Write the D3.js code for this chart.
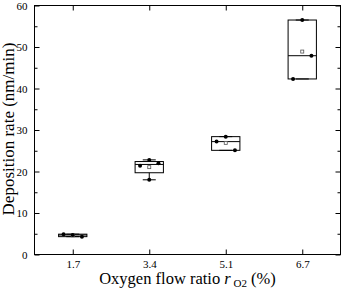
<!DOCTYPE html>
<html>
<head>
<meta charset="utf-8">
<script src="https://cdn.jsdelivr.net/npm/d3@7"></script>
<style>
  body { margin: 0; background: #fff; }
  text { font-family: "Liberation Serif", "Times New Roman", serif; fill: #000; }
</style>
</head>
<body>
<script>
// oxygen flow ratio groups and measured deposition rates (nm/min)
const categories = ["1.7", "3.4", "5.1", "6.7"];
const rate17 = [4.9, 4.7, 4.3];
const rate34 = [21.4, 22.8, 22.0, 18.0];
const rate51 = [27.2, 28.4, 25.1];
const rate67 = [42.3, 56.5, 47.9];
const yTicks = [0, 10, 20, 30, 40, 50, 60];

const groups = [rate17, rate34, rate51, rate67];

const width = 342, height = 290;
const margin = {top: 5.5, right: 1.5, bottom: 35.5, left: 34.5};
const w = width - margin.left - margin.right;
const h = height - margin.top - margin.bottom;

const svg = d3.select("body").append("svg")
  .attr("width", width)
  .attr("height", height);

const g = svg.append("g")
  .attr("transform", `translate(${margin.left},${margin.top})`);

const x = d3.scalePoint().domain(categories).range([0, w]).padding(0.5);
const y = d3.scaleLinear().domain([0, 60]).range([h, 0]);
const step = x.step();
const boxW = step * 0.37;
const capW = 13;
const jit = [-1, 0, 1, 0].map(v => v * step * 0.12);

// Tukey hinges, median excluded for odd n
function stats(vals) {
  const s = vals.slice().sort(d3.ascending);
  const n = s.length;
  const lo = s.slice(0, Math.floor(n / 2));
  const hi = s.slice(Math.ceil(n / 2));
  const q1 = d3.median(lo), q3 = d3.median(hi);
  const iqr = q3 - q1;
  const wLo = d3.min(s.filter(v => v >= q1 - 1.5 * iqr));
  const wHi = d3.max(s.filter(v => v <= q3 + 1.5 * iqr));
  return {q1, q3, med: d3.median(s), mean: d3.mean(s), wLo, wHi};
}

// frame
g.append("rect")
  .attr("width", w).attr("height", h)
  .attr("fill", "none").attr("stroke", "#000").attr("stroke-width", 1);

// axes (ticks inward)
const minor = d3.range(5, 60, 10);
g.append("g").call(d3.axisLeft(y).tickValues(yTicks).tickSizeInner(-5).tickSizeOuter(0).tickPadding(7))
  .call(a => a.select(".domain").remove())
  .call(a => a.selectAll("text").style("font-size", "11px"));
g.append("g").call(d3.axisLeft(y).tickValues(minor).tickSizeInner(-3).tickSizeOuter(0).tickFormat(""))
  .call(a => a.select(".domain").remove());
g.append("g").attr("transform", `translate(${w},0)`)
  .call(d3.axisRight(y).tickValues(yTicks).tickSizeInner(-5).tickSizeOuter(0).tickFormat(""))
  .call(a => a.select(".domain").remove());
g.append("g").attr("transform", `translate(${w},0)`)
  .call(d3.axisRight(y).tickValues(minor).tickSizeInner(-3).tickSizeOuter(0).tickFormat(""))
  .call(a => a.select(".domain").remove());
g.append("g").attr("transform", `translate(0,${h})`)
  .call(d3.axisBottom(x).tickSizeInner(-5).tickSizeOuter(0).tickPadding(6))
  .call(a => a.select(".domain").remove())
  .call(a => a.selectAll("text").style("font-size", "11px"));
g.append("g")
  .call(d3.axisTop(x).tickSizeInner(-5).tickSizeOuter(0).tickFormat(""))
  .call(a => a.select(".domain").remove());

// boxes
groups.forEach((vals, i) => {
  const s = stats(vals);
  const cx = x(categories[i]);
  const bg = g.append("g");
  bg.append("line").attr("x1", cx).attr("x2", cx).attr("y1", y(s.wLo)).attr("y2", y(s.q1)).attr("stroke", "#000");
  bg.append("line").attr("x1", cx).attr("x2", cx).attr("y1", y(s.q3)).attr("y2", y(s.wHi)).attr("stroke", "#000");
  [s.wLo, s.wHi].forEach(v => bg.append("line")
    .attr("x1", cx - capW / 2).attr("x2", cx + capW / 2)
    .attr("y1", y(v)).attr("y2", y(v)).attr("stroke", "#000"));
  bg.append("rect")
    .attr("x", cx - boxW / 2).attr("y", y(s.q3))
    .attr("width", boxW).attr("height", y(s.q1) - y(s.q3))
    .attr("fill", "none").attr("stroke", "#000").attr("stroke-width", 1);
  bg.append("line")
    .attr("x1", cx - boxW / 2).attr("x2", cx + boxW / 2)
    .attr("y1", y(s.med)).attr("y2", y(s.med)).attr("stroke", "#000");
  bg.append("rect")
    .attr("x", cx - 1.5).attr("y", y(s.mean) - 1.5)
    .attr("width", 3).attr("height", 3)
    .attr("fill", "#fff").attr("stroke", "#555").attr("stroke-width", 0.8);
  bg.selectAll("circle").data(vals).enter().append("circle")
    .attr("cx", (d, j) => cx + jit[j])
    .attr("cy", d => y(d))
    .attr("r", 2)
    .attr("fill", "#000");
});

// axis titles
svg.append("text")
  .attr("transform", `translate(14,${margin.top + h / 2 - 1}) rotate(-90)`)
  .attr("text-anchor", "middle")
  .style("font-size", "17px")
  .text("Deposition rate (nm/min)");

const xt = svg.append("text")
  .attr("x", margin.left + w / 2)
  .attr("y", 284)
  .attr("text-anchor", "middle")
  .style("font-size", "16.5px");
xt.append("tspan").text("Oxygen flow ratio ");
xt.append("tspan").style("font-style", "italic").text("r");
xt.append("tspan").attr("dy", 3).style("font-size", "11px").text(" O2");
xt.append("tspan").attr("dy", -3).text(" (%)");
</script>
</body>
</html>
